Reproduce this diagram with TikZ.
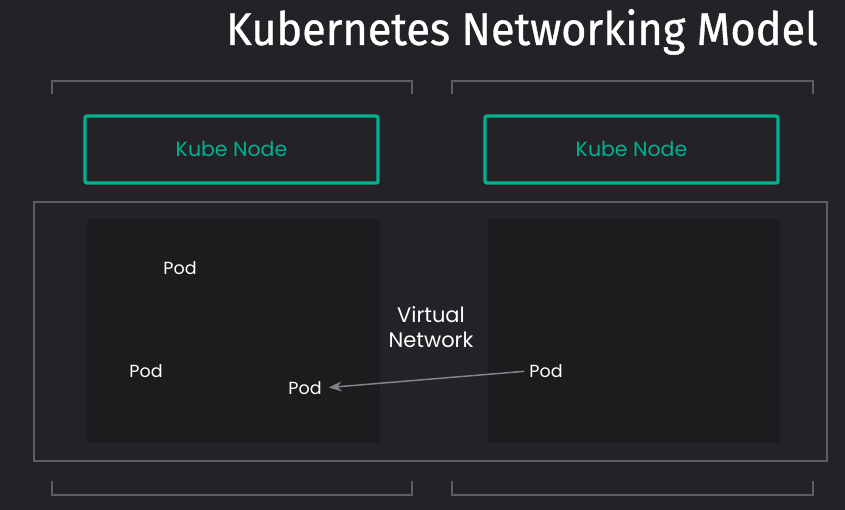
\documentclass[tikz,border=0pt]{standalone}
\usepackage{fontspec}
\setmainfont{Poppins}
\newfontfamily\titlefont[FakeStretch=0.94,FakeBold=0.8]{Fira Sans}
\usetikzlibrary{arrows.meta}
\definecolor{bg}{HTML}{242226}
\definecolor{inner}{HTML}{1C1B1E}
\definecolor{teal}{HTML}{00B190}
\definecolor{frame}{HTML}{5E5D62}
\definecolor{arrowc}{HTML}{858387}
\tikzset{
  kubebox/.style={draw=teal, line width=3.2pt, rounded corners=2pt, minimum width=293pt, minimum height=67pt, text=teal, font=\fontsize{20.5}{24}\selectfont, inner sep=0pt},
  podlabel/.style={text=white, font=\fontsize{17.5}{20}\selectfont, inner sep=1pt},
  bracketline/.style={draw=frame, line width=1.6pt},
}
\begin{document}
\begin{tikzpicture}[x=1pt,y=-1pt]
\useasboundingbox[fill=bg] (0,0) rectangle (845,510);
% title
\node[anchor=base east, text=white, inner sep=0pt, font=\titlefont\fontsize{46}{52}\selectfont] (title) at (818,45) {Kubernetes Networking Model};
% top brackets
\draw[bracketline] (52,94) -- (52,81) -- (412,81) -- (412,94);
\draw[bracketline] (452,94) -- (452,81) -- (813,81) -- (813,94);
% outer virtual network frame
\draw[draw=frame, line width=1.6pt] (34,202) rectangle (827,461);
% inner dark areas
\fill[inner] (87,219) rectangle (380,443);
\fill[inner] (488,219) rectangle (780,443);
% kube node boxes
\node[kubebox] (k1) at (231.5,149.5) {\raisebox{1.5pt}{Kube Node}};
\node[kubebox] (k2) at (631.5,149.5) {\raisebox{1.5pt}{Kube Node}};
% bottom brackets
\draw[bracketline] (52,481) -- (52,495) -- (412,495) -- (412,481);
\draw[bracketline] (452,481) -- (452,495) -- (813,495) -- (813,481);
% virtual network label
\node[text=white, align=center, font=\fontsize{21}{25}\selectfont, inner sep=0pt] (vn) at (431,327) {Virtual\\Network};
% pods
\node[podlabel] (p1) at (180,268) {Pod};
\node[podlabel] (p2) at (146,371) {Pod};
\node[podlabel] (p3) at (305,388) {Pod};
\node[podlabel] (p4) at (546,371) {Pod};
\draw[draw=arrowc, line width=1.5pt, -{Stealth[length=13pt,width=10pt]}, shorten >=6pt, shorten <=4pt] (p4.west) -- (p3.east);
\end{tikzpicture}
\end{document}
